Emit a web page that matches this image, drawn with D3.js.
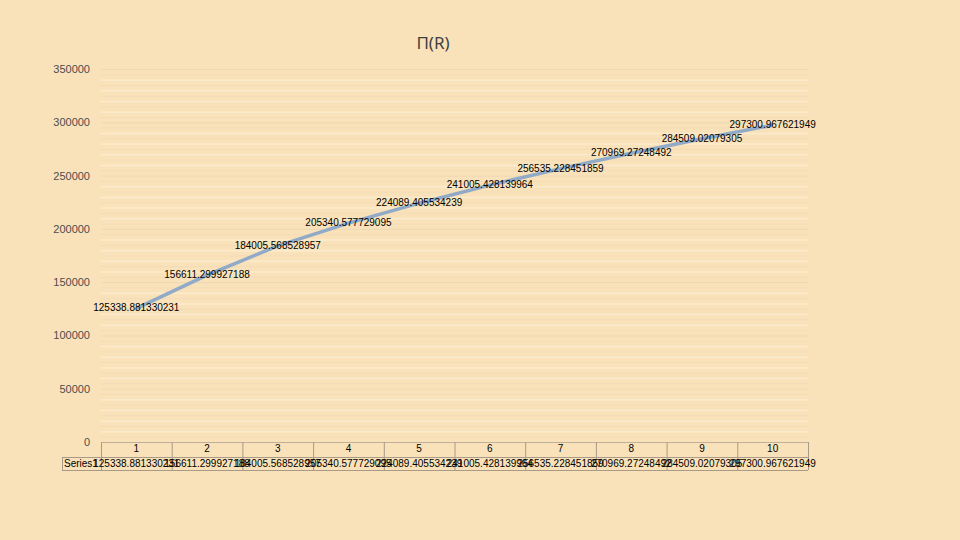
<!DOCTYPE html>
<html>
<head>
<meta charset="utf-8">
<script src="https://d3js.org/d3.v7.min.js"></script>
<style>
  body { margin: 0; background: #f9e2b9; }
  svg { display: block; }
</style>
</head>
<body>
<div id="chart"></div>
<script>
const categories = ["1", "2", "3", "4", "5", "6", "7", "8", "9", "10"];
const seriesName = "Series1";
const values = [125338.881330231, 156611.299927188, 184005.568528957, 205340.577729095,
  224089.405534239, 241005.428139964, 256535.228451859, 270969.27248492,
  284509.02079305, 297300.967621949];
const valueLabels = ["125338.881330231", "156611.299927188", "184005.568528957", "205340.577729095",
  "224089.405534239", "241005.428139964", "256535.228451859", "270969.27248492",
  "284509.02079305", "297300.967621949"];
const yTicks = [0, 50000, 100000, 150000, 200000, 250000, 300000, 350000];

const width = 960, height = 540;
const plotLeft = 101, plotRight = 808, plotTop = 69, plotBottom = 442;

const svg = d3.select("#chart").append("svg")
  .attr("width", width).attr("height", height);

svg.append("rect").attr("width", width).attr("height", height).attr("fill", "#f9e2b9");

// title
svg.append("text")
  .attr("x", 433).attr("y", 49)
  .attr("text-anchor", "middle")
  .attr("font-family", "Noto Sans, sans-serif")
  .attr("font-size", 17)
  .attr("fill", "#404040")
  .text("Π(R)");

const x = d3.scaleBand().domain(categories).range([plotLeft, plotRight]);
const y = d3.scaleLinear().domain([0, 350000]).range([plotBottom, plotTop]);

// minor grid
svg.append("g").selectAll("line")
  .data(d3.range(0, 350001, 10000).filter(v => v % 50000 !== 0))
  .join("line")
  .attr("x1", plotLeft).attr("x2", plotRight)
  .attr("y1", d => y(d) + 0.5).attr("y2", d => y(d) + 0.5)
  .attr("stroke", "#fbebce").attr("stroke-width", 1.5);

svg.append("g").selectAll("line")
  .data(d3.range(5000, 350001, 10000))
  .join("line")
  .attr("x1", plotLeft).attr("x2", plotRight)
  .attr("y1", d => y(d) + 0.5).attr("y2", d => y(d) + 0.5)
  .attr("stroke", "#f3dcb6").attr("stroke-width", 1);

// major grid
svg.append("g").selectAll("line")
  .data(yTicks.filter(v => v > 0))
  .join("line")
  .attr("x1", plotLeft).attr("x2", plotRight)
  .attr("y1", d => y(d) + 0.5).attr("y2", d => y(d) + 0.5)
  .attr("stroke", "#ecd8b7").attr("stroke-width", 1);

// y axis labels
const yAxis = svg.append("g")
  .attr("transform", `translate(${plotLeft - 11},0)`)
  .call(d3.axisLeft(y).tickValues(yTicks).tickFormat(d3.format("d")).tickSize(0).tickPadding(0));
yAxis.select(".domain").remove();
yAxis.selectAll("text")
  .attr("font-family", "Liberation Sans, Arial, sans-serif")
  .attr("font-size", 11)
  .attr("fill", "#4d4d4d");

// x axis line + separators down through table
svg.append("line")
  .attr("x1", plotLeft).attr("x2", plotRight)
  .attr("y1", plotBottom + 0.5).attr("y2", plotBottom + 0.5)
  .attr("stroke", "#bfb09a");

const seps = categories.map(c => x(c)).concat([plotRight]);
svg.append("g").selectAll("line")
  .data(seps)
  .join("line")
  .attr("x1", d => d + 0.5).attr("x2", d => d + 0.5)
  .attr("y1", plotBottom).attr("y2", 470)
  .attr("stroke", "#a89a86");

// data table row
const tableTop = 457, tableBottom = 470;
svg.append("line").attr("x1", 62).attr("x2", plotRight)
  .attr("y1", tableTop + 0.5).attr("y2", tableTop + 0.5).attr("stroke", "#a89a86");
svg.append("line").attr("x1", 62).attr("x2", plotRight)
  .attr("y1", tableBottom + 0.5).attr("y2", tableBottom + 0.5).attr("stroke", "#a89a86");
svg.append("line").attr("x1", 62.5).attr("x2", 62.5)
  .attr("y1", tableTop).attr("y2", tableBottom).attr("stroke", "#a89a86");

svg.append("text")
  .attr("x", 64).attr("y", 467)
  .attr("font-family", "Liberation Sans, Arial, sans-serif")
  .attr("font-size", 10).attr("fill", "#000")
  .text(seriesName);

// category labels
svg.append("g").selectAll("text")
  .data(categories)
  .join("text")
  .attr("x", d => x(d) + x.bandwidth() / 2)
  .attr("y", 452)
  .attr("text-anchor", "middle")
  .attr("font-family", "Liberation Sans, Arial, sans-serif")
  .attr("font-size", 10).attr("fill", "#000")
  .text(d => d);

// table values
svg.append("g").selectAll("text")
  .data(categories)
  .join("text")
  .attr("x", d => x(d) + x.bandwidth() / 2)
  .attr("y", 467)
  .attr("text-anchor", "middle")
  .attr("font-family", "Liberation Sans, Arial, sans-serif")
  .attr("font-size", 10).attr("fill", "#000")
  .text((d, i) => valueLabels[i]);

// line
const line = d3.line()
  .x((d, i) => x(categories[i]) + x.bandwidth() / 2)
  .y(d => y(d));
svg.append("path")
  .datum(values)
  .attr("d", line)
  .attr("fill", "none")
  .attr("stroke", "#90aac8")
  .attr("stroke-width", 3.5)
  .attr("stroke-linejoin", "round");

// data labels
svg.append("g").selectAll("text")
  .data(values)
  .join("text")
  .attr("x", (d, i) => x(categories[i]) + x.bandwidth() / 2)
  .attr("y", d => y(d) + 3)
  .attr("text-anchor", "middle")
  .attr("font-family", "Liberation Sans, Arial, sans-serif")
  .attr("font-size", 10).attr("fill", "#000")
  .text((d, i) => valueLabels[i]);
</script>
</body>
</html>
